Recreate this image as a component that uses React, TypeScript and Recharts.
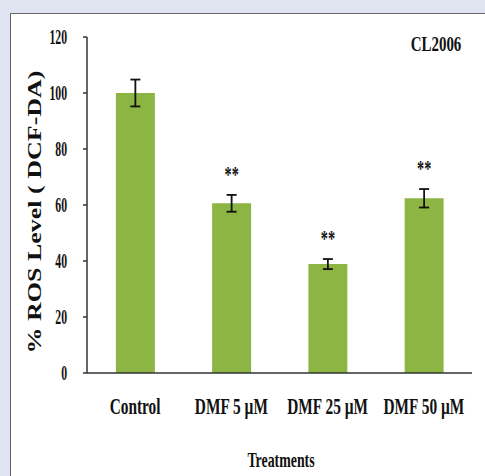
import React from 'react'
import { BarChart, Bar, XAxis, YAxis, ErrorBar, LabelList } from 'recharts'

const treatments = ['Control', 'DMF 5 µM', 'DMF 25 µM', 'DMF 50 µM']
const rosLevel = [100, 60.6, 38.9, 62.4]
const rosError = [4.8, 3, 1.8, 3.3]
const significance = ['', '**', '**', '**']
const yTicks = [0, 20, 40, 60, 80, 100, 120]
const edgeTicks = [0, 1, 2, 3, 4]

const data = treatments.map((name, i) => ({
  name,
  value: rosLevel[i],
  err: rosError[i],
  sig: significance[i],
  pos: i + 0.5,
}))

const FONT = '"Liberation Serif", "Times New Roman", serif'

// the source figure is squashed sideways, so text is drawn narrow
const Squeezed = ({ x, y, size, k, anchor = 'middle', children }: { x: number; y: number; size: number; k: number; anchor?: 'start' | 'middle' | 'end'; children: React.ReactNode }) => (
  <text
    transform={`translate(${x},${y}) scale(${k},1)`}
    x={0}
    y={0}
    textAnchor={anchor}
    fontFamily={FONT}
    fontWeight="bold"
    fontSize={size}
    fill="#111"
  >
    {children}
  </text>
)

const YTick = (props: any) => {
  const { x, y, payload } = props
  return <Squeezed x={x} y={y + 7} size={21} k={0.56} anchor="end">{payload.value}</Squeezed>
}

const XTick = (props: any) => {
  const { x, y, payload } = props
  return <Squeezed x={x} y={y + 33} size={24} k={0.64}>{payload.value}</Squeezed>
}

const Stars = (props: any) => {
  const { x, y, width, height, value, index } = props
  if (!value) return null
  const perUnit = height / rosLevel[index]
  const top = y - rosError[index] * perUnit
  return <Squeezed x={x + width / 2} y={top - 13} size={23} k={0.62}>{value}</Squeezed>
}

export default function App() {
  return (
    <div style={{ position: 'fixed', left: 0, top: 0, width: 485, height: 476, background: '#dfe4f0', overflow: 'hidden' }}>
      <div style={{ position: 'absolute', left: 10, top: 13, width: 480, height: 470, background: '#fff', borderLeft: '1px solid #666', borderTop: '1px solid #666' }} />
      <div style={{ position: 'absolute', left: 0, top: 0 }}>
        <BarChart width={485} height={476} data={data} margin={{ top: 37, right: 13, bottom: 73, left: 27 }} barCategoryGap="30%">
          <XAxis
            xAxisId="edges"
            type="number"
            dataKey="pos"
            domain={[0, 4]}
            ticks={edgeTicks}
            tickFormatter={() => ''}
            axisLine={false}
            tickLine={{ stroke: '#333', strokeWidth: 1.5 }}
            tickSize={6}
            height={0}
          />
          <XAxis
            xAxisId="cat"
            dataKey="name"
            tick={<XTick />}
            tickLine={false}
            axisLine={{ stroke: '#333', strokeWidth: 1.5 }}
            height={30}
            interval={0}
          />
          <YAxis
            domain={[0, 120]}
            ticks={yTicks}
            width={60}
            tick={<YTick />}
            tickSize={4}
            tickMargin={16}
            axisLine={{ stroke: '#333', strokeWidth: 1.5 }}
            tickLine={{ stroke: '#333', strokeWidth: 1.5 }}
          />
          <Bar dataKey="value" xAxisId="cat" fill="#8db544" isAnimationActive={false}>
            <ErrorBar dataKey="err" width={5} stroke="#111" strokeWidth={1.8} />
            <LabelList dataKey="sig" content={<Stars />} />
          </Bar>
          <Squeezed x={436} y={51} size={22} k={0.68}>CL2006</Squeezed>
          <Squeezed x={281} y={467} size={21} k={0.66}>Treatments</Squeezed>
          <text
            transform="translate(41,212) scale(0.7,1) rotate(-90)"
            textAnchor="middle"
            fontFamily={FONT}
            fontWeight="bold"
            fontSize={26}
            fill="#111"
          >
            % ROS Level ( DCF-DA)
          </text>
        </BarChart>
      </div>
    </div>
  )
}
